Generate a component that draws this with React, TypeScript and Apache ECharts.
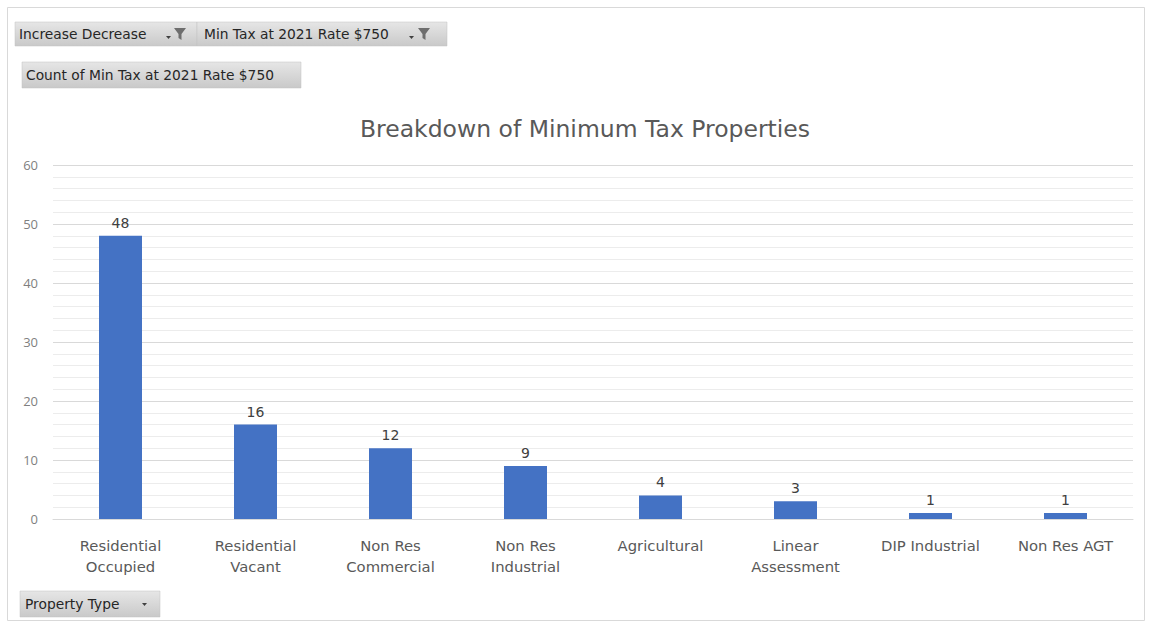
import React, { useEffect, useRef } from "react";
import * as echarts from "echarts";

const categories = [
  "Residential\nOccupied",
  "Residential\nVacant",
  "Non Res\nCommercial",
  "Non Res\nIndustrial",
  "Agricultural",
  "Linear\nAssessment",
  "DIP Industrial",
  "Non Res AGT",
];
const counts = [48, 16, 12, 9, 4, 3, 1, 1];
const yMin = 0;
const yMax = 60;
const yInterval = 10;
const chartTitle = "Breakdown of Minimum Tax Properties";
const filterLabels = ["Increase Decrease", "Min Tax at 2021 Rate $750"];
const valueLabel = "Count of Min Tax at 2021 Rate $750";
const axisFieldLabel = "Property Type";

const btnFill = {
  type: "linear",
  x: 0,
  y: 0,
  x2: 0,
  y2: 1,
  colorStops: [
    { offset: 0, color: "#e6e6e6" },
    { offset: 1, color: "#c9c9c9" },
  ],
};

function funnel(x: number, y: number) {
  return {
    type: "polygon",
    shape: {
      points: [
        [x, y],
        [x + 12, y],
        [x + 7.5, y + 6],
        [x + 7.5, y + 12],
        [x + 4.5, y + 10],
        [x + 4.5, y + 6],
      ],
    },
    style: { fill: "#6e6e6e" },
  };
}

function dropArrow(x: number, y: number) {
  return {
    type: "polygon",
    shape: { points: [[x, y], [x + 5, y], [x + 2.5, y + 3]] },
    style: { fill: "#404040" },
  };
}

const btnFont = '13.8px "DejaVu Sans", sans-serif';
const wideFont = '"DejaVu Sans", sans-serif';

export default function App() {
  const ref = useRef<HTMLDivElement>(null);
  useEffect(() => {
    if (!ref.current) return;
    const chart = echarts.init(ref.current, undefined, { renderer: "svg" });
    chart.setOption({
      animation: false,
      backgroundColor: "#ffffff",
      title: {
        text: chartTitle,
        left: 580,
        textAlign: "center",
        top: 112,
        textStyle: {
          color: "#595959",
          fontSize: 23.5,
          fontWeight: "normal",
          fontFamily: wideFont,
        },
      },
      grid: { left: 53, right: 19, top: 165, bottom: 108, containLabel: false },
      xAxis: {
        type: "category",
        data: categories,
        axisLine: { show: true, lineStyle: { color: "#d9d9d9" } },
        axisTick: { show: false },
        axisLabel: {
          color: "#595959",
          fontSize: 14.8,
          lineHeight: 21,
          margin: 16,
          interval: 0,
          fontFamily: wideFont,
        },
      },
      yAxis: {
        type: "value",
        min: yMin,
        max: yMax,
        interval: yInterval,
        axisLine: { show: false },
        axisTick: { show: false },
        axisLabel: {
          color: "#7f7f7f",
          fontSize: 13,
          margin: 15,
          fontFamily: '"Open Sans", sans-serif',
        },
        splitLine: { lineStyle: { color: "#d9d9d9", width: 1 } },
        minorTick: { show: false, splitNumber: 5 },
        minorSplitLine: { show: true, lineStyle: { color: "#ececec", width: 1 } },
      },
      series: [
        {
          type: "bar",
          data: counts,
          barWidth: 43,
          itemStyle: { color: "#4472c4" },
          label: {
            show: true,
            position: "top",
            distance: 6,
            color: "#404040",
            fontSize: 14,
            fontFamily: wideFont,
          },
        },
      ],
      graphic: [
        {
          type: "rect",
          shape: { x: 7.5, y: 7.5, width: 1137, height: 613 },
          style: { fill: "none", stroke: "#d9d9d9", lineWidth: 1 },
          silent: true,
        },
        {
          type: "rect",
          shape: { x: 15, y: 22, width: 182, height: 24 },
          style: { fill: btnFill, stroke: "#c0c0c0", lineWidth: 0.5 },
        },
        {
          type: "rect",
          shape: { x: 197, y: 22, width: 250, height: 24 },
          style: { fill: btnFill, stroke: "#c0c0c0", lineWidth: 0.5 },
        },
        {
          type: "text",
          x: 19,
          y: 34,
          style: { text: filterLabels[0], font: btnFont, fill: "#262626", textVerticalAlign: "middle" },
        },
        dropArrow(166, 36),
        funnel(174, 28),
        {
          type: "text",
          x: 204,
          y: 34,
          style: { text: filterLabels[1], font: btnFont, fill: "#262626", textVerticalAlign: "middle" },
        },
        dropArrow(409, 36),
        funnel(418, 28),
        {
          type: "rect",
          shape: { x: 22, y: 62, width: 279, height: 26 },
          style: { fill: btnFill, stroke: "#c0c0c0", lineWidth: 0.5 },
        },
        {
          type: "text",
          x: 26,
          y: 75,
          style: { text: valueLabel, font: btnFont, fill: "#262626", textVerticalAlign: "middle" },
        },
        {
          type: "rect",
          shape: { x: 20, y: 591, width: 140, height: 26 },
          style: { fill: btnFill, stroke: "#c0c0c0", lineWidth: 0.5 },
        },
        {
          type: "text",
          x: 25,
          y: 604,
          style: { text: axisFieldLabel, font: btnFont, fill: "#262626", textVerticalAlign: "middle" },
        },
        dropArrow(142, 603),
      ],
    });
    return () => chart.dispose();
  }, []);
  return (
    <div
      ref={ref}
      style={{ position: "fixed", left: 0, top: 0, width: 1152, height: 627 }}
    />
  );
}
